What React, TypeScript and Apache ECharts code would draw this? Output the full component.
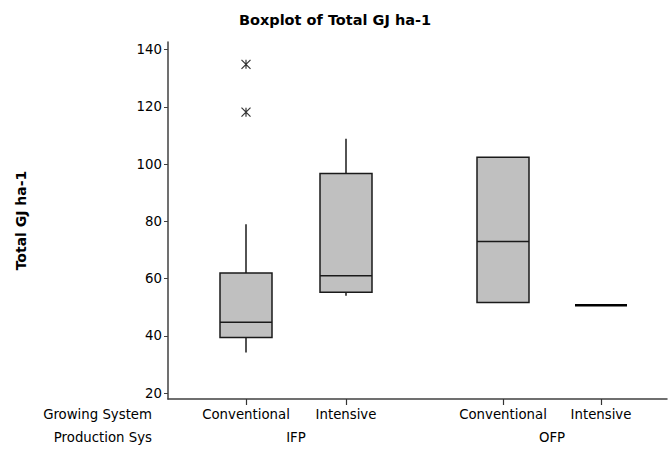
import React, { useEffect, useRef } from "react";
import * as echarts from "echarts";

// Boxplot data: [lowWhisker, Q1, median, Q3, highWhisker]
const growingSystems = ["Conventional", "Intensive", "Conventional", "Intensive"];
const productionSystems = ["IFP", "OFP"];
const boxStats: number[][] = [
  [34.2, 39.5, 44.8, 62.0, 79.0],
  [54.0, 55.3, 61.0, 96.7, 108.8],
  [51.7, 51.7, 73.0, 102.4, 102.4],
  [50.7, 50.7, 50.7, 50.7, 50.7],
];
// Outliers: [boxIndex, value]
const outliers: number[][] = [
  [0, 118.1],
  [0, 134.8],
];
const yTicks = [20, 40, 60, 80, 100, 120, 140];

// layout positions (on the hidden numeric x scale): box slots with a gap between groups
const slotPos = [1, 2, 3.57, 4.55];
const groupPos = [1.5, 4.06];

const FONT = "DejaVu Sans";
const FS = 13.3;
const Y_MIN = 18;
const Y_MAX = 142.6;

export default function App() {
  const ref = useRef<HTMLDivElement>(null);
  useEffect(() => {
    const chart = echarts.init(ref.current!, null, { renderer: "svg" });
    const boxData = boxStats.map((s, i) => [slotPos[i], ...s]);
    const outData = outliers.map(([b, v]) => [slotPos[b], v]);
    const rowLabels: any[] = [
      {
        type: "text",
        id: "rowGS",
        right: 669 - 152,
        top: 408,
        style: { text: "Growing System", fontFamily: FONT, fontSize: FS, fill: "#000", textAlign: "right" },
      },
      {
        type: "text",
        id: "rowPS",
        right: 669 - 152,
        top: 431,
        style: { text: "Production Sys", fontFamily: FONT, fontSize: FS, fill: "#000", textAlign: "right" },
      },
    ];
    const option: any = {
      animation: false,
      backgroundColor: "#fff",
      title: {
        text: "Boxplot of Total GJ ha-1",
        left: 330,
        textAlign: "center",
        top: 7,
        textStyle: { fontFamily: FONT, fontWeight: "bold", fontSize: 14.5, color: "#000" },
      },
      grid: { left: 168, right: 2, top: 42, bottom: 50 },
      xAxis: [
        {
          type: "value",
          min: 0.22,
          max: 5.21,
          splitLine: { show: false },
          axisLine: { show: true, lineStyle: { color: "#404040", width: 1.5 } },
          axisTick: { show: false },
          axisLabel: {
            customValues: slotPos,
            formatter: (v: number) => {
              const i = slotPos.findIndex((p) => Math.abs(p - v) < 1e-6);
              return i >= 0 ? growingSystems[i] : "";
            },
            margin: 9,
            fontFamily: FONT,
            fontSize: FS,
            color: "#000",
          },
        },
        {
          type: "value",
          position: "bottom",
          offset: 22,
          min: 0.22,
          max: 5.21,
          splitLine: { show: false },
          axisLine: { show: false },
          axisTick: { show: false },
          axisLabel: {
            customValues: groupPos,
            formatter: (v: number) => {
              const i = groupPos.findIndex((p) => Math.abs(p - v) < 1e-6);
              return i >= 0 ? productionSystems[i] : "";
            },
            margin: 10,
            fontFamily: FONT,
            fontSize: FS,
            color: "#000",
          },
        },
      ],
      yAxis: {
        type: "value",
        min: Y_MIN,
        max: Y_MAX,
        name: "Total GJ ha-1",
        nameLocation: "middle",
        nameGap: 140,
        nameRotate: 90,
        nameTextStyle: { fontFamily: FONT, fontWeight: "bold", fontSize: 14, color: "#000" },
        splitLine: { show: false },
        axisLine: { show: true, lineStyle: { color: "#404040", width: 1.5 } },
        axisTick: { show: true, customValues: yTicks, length: 4, lineStyle: { color: "#404040" } },
        axisLabel: {
          customValues: yTicks,
          margin: 6,
          fontFamily: FONT,
          fontSize: FS,
          color: "#000",
        },
      },
      graphic: rowLabels,
      series: [
        {
          type: "custom",
          xAxisIndex: 0,
          data: boxData,
          encode: { x: 0, y: [1, 2, 3, 4, 5] },
          renderItem: (params: any, api: any) => {
            const x = api.value(0);
            const lo = api.value(1);
            const q1 = api.value(2);
            const med = api.value(3);
            const q3 = api.value(4);
            const hi = api.value(5);
            const w = api.size([0.52, 0])[0];
            const pLo = api.coord([x, lo]);
            const pQ1 = api.coord([x, q1]);
            const pMed = api.coord([x, med]);
            const pQ3 = api.coord([x, q3]);
            const pHi = api.coord([x, hi]);
            const cx = pMed[0];
            const left = cx - w / 2;
            const stroke = { stroke: "#1a1a1a", lineWidth: 1.5 };
            const children: any[] = [];
            if (q3 === q1) {
              children.push({
                type: "line",
                shape: { x1: left, y1: pMed[1], x2: left + w, y2: pMed[1] },
                style: { stroke: "#000", lineWidth: 2.5 },
              });
              return { type: "group", children };
            }
            if (hi > q3) {
              children.push({ type: "line", shape: { x1: cx, y1: pQ3[1], x2: cx, y2: pHi[1] }, style: stroke });
            }
            if (lo < q1) {
              children.push({ type: "line", shape: { x1: cx, y1: pQ1[1], x2: cx, y2: pLo[1] }, style: stroke });
            }
            children.push({
              type: "rect",
              shape: { x: left, y: pQ3[1], width: w, height: pQ1[1] - pQ3[1] },
              style: { fill: "#c0c0c0", stroke: "#1a1a1a", lineWidth: 1.5 },
            });
            children.push({
              type: "line",
              shape: { x1: left, y1: pMed[1], x2: left + w, y2: pMed[1] },
              style: stroke,
            });
            return { type: "group", children };
          },
          z: 2,
        },
        {
          type: "scatter",
          xAxisIndex: 0,
          data: outData,
          symbol: "path://M0,0L8,8M8,0L0,8M4,0L4,8",
          symbolSize: 9,
          itemStyle: { color: "none", borderColor: "#000", borderWidth: 1.2 },
          z: 3,
        },
      ],
    };
    chart.setOption(option);
    // x-axis category ticks, positioned through the chart's own scale
    const ticks = slotPos.map((p, i) => {
      const pt = chart.convertToPixel({ xAxisIndex: 0, yAxisIndex: 0 }, [p, Y_MIN]) as number[];
      const tx = Math.round(pt[0]) + 0.5;
      return {
        type: "line",
        id: "xtick" + i,
        shape: { x1: tx, y1: pt[1], x2: tx, y2: pt[1] + 6 },
        style: { stroke: "#333333", lineWidth: 1.2 },
        z: 50,
      };
    });
    chart.setOption({ graphic: [...rowLabels, ...ticks] });
    return () => chart.dispose();
  }, []);
  return <div ref={ref} style={{ width: 669, height: 449, position: "absolute", left: 0, top: 0 }} />;
}
